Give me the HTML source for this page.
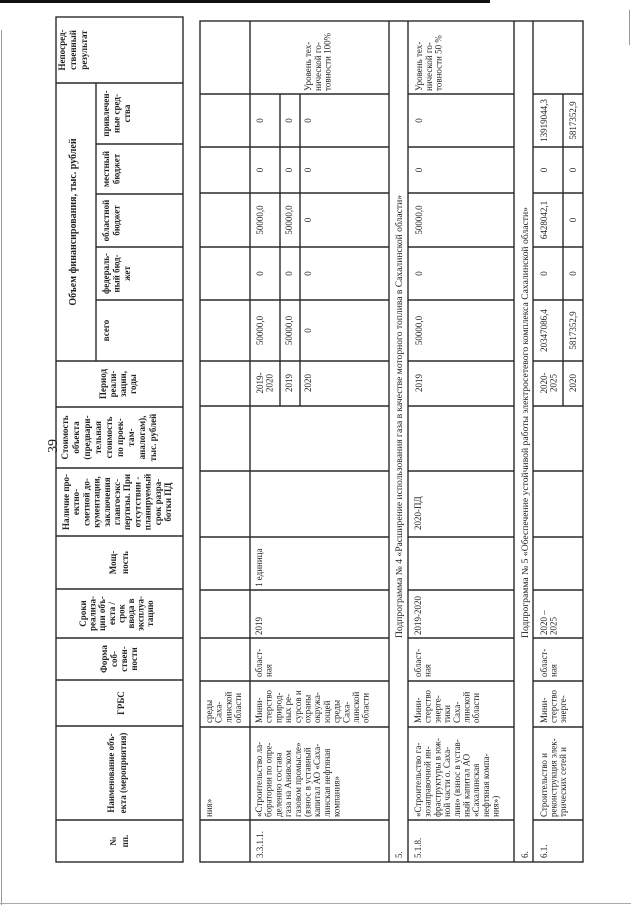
<!DOCTYPE html>
<html><head><meta charset="utf-8"><style>
html,body{margin:0;padding:0;background:#fff;}
svg{display:block;}
text{font-family:"Liberation Serif",serif;fill:#222;}
.h{font-weight:bold;font-size:9px;}
.b{font-size:9px;}
</style></head><body>
<svg width="631" height="905" viewBox="0 0 631 905" xmlns="http://www.w3.org/2000/svg">
<rect x="0" y="0" width="631" height="905" fill="#fff"/>
<rect x="0" y="0" width="490" height="3" fill="#111"/>
<line x1="1.5" y1="30" x2="1.5" y2="905" stroke="#999" stroke-width="1"/>
<line x1="0" y1="903.5" x2="631" y2="903.5" stroke="#aaa" stroke-width="1"/>
<line x1="629.5" y1="10" x2="629.5" y2="45" stroke="#999" stroke-width="1"/>

<g stroke="#2a2a2a" stroke-width="1.4" fill="none">
<rect x="56" y="17" width="127" height="845"/>
<path d="M56 83H183M56 361H183M56 407H183M56 468H183M56 536H183M56 589H183M56 638H183M56 680H183M56 726H183M56 820H183"/>
<path d="M96 144H183M96 194H183M96 247H183M96 300H183M96 83V361"/>
<rect x="200" y="21" width="383" height="841"/>
<path d="M250 21V862M389 21V862M408 21V862M514 21V862M533 21V862"/>
<path d="M280 94V406M300 94V406M563 94V406"/>
<path d="M200 94H389M200 147H389M200 193H389M200 247H389M200 300H389M200 361H389M200 406H389M200 471H389M200 537H389M200 590H389M200 638H389M200 681H389M200 727H389M200 820H389"/>
<path d="M408 94H514M408 147H514M408 193H514M408 247H514M408 300H514M408 361H514M408 406H514M408 471H514M408 537H514M408 590H514M408 638H514M408 681H514M408 727H514M408 820H514"/>
<path d="M533 94H583M533 147H583M533 193H583M533 247H583M533 300H583M533 361H583M533 406H583M533 471H583M533 537H583M533 590H583M533 638H583M533 681H583M533 727H583M533 820H583"/>
</g>

<text transform="translate(57,446) rotate(-90)" text-anchor="middle" style="font-size:14px">39</text>

<g class="h" text-anchor="middle">
<text transform="translate(65,50) rotate(-90)"><tspan x="0">Непосред-</tspan><tspan x="0" dy="11">ственный</tspan><tspan x="0" dy="11">результат</tspan></text>
<text transform="translate(76,222) rotate(-90)" style="font-size:10px">Объем финансирования, тыс. рублей</text>
<text transform="translate(109,113.5) rotate(-90)"><tspan x="0">привлечен-</tspan><tspan x="0" dy="10.5">ные сред-</tspan><tspan x="0" dy="10.5">ства</tspan></text>
<text transform="translate(109,169) rotate(-90)"><tspan x="0">местный</tspan><tspan x="0" dy="10.5">бюджет</tspan></text>
<text transform="translate(109,220.5) rotate(-90)"><tspan x="0">областной</tspan><tspan x="0" dy="10.5">бюджет</tspan></text>
<text transform="translate(109,273.5) rotate(-90)"><tspan x="0">федераль-</tspan><tspan x="0" dy="10.5">ный бюд-</tspan><tspan x="0" dy="10.5">жет</tspan></text>
<text transform="translate(109,330.5) rotate(-90)">всего</text>
<text transform="translate(106,384) rotate(-90)"><tspan x="0">Период</tspan><tspan x="0" dy="10">реали-</tspan><tspan x="0" dy="10">зации,</tspan><tspan x="0" dy="10">годы</tspan></text>
<text transform="translate(68,437.5) rotate(-90)"><tspan x="0">Стоимость</tspan><tspan x="0" dy="11">объекта</tspan><tspan x="0" dy="11">(предвари-</tspan><tspan x="0" dy="11">тельная</tspan><tspan x="0" dy="11">стоимость</tspan><tspan x="0" dy="11">по проек-</tspan><tspan x="0" dy="11">там-</tspan><tspan x="0" dy="11">аналогам),</tspan><tspan x="0" dy="11">тыс. рублей</tspan></text>
<text transform="translate(69,502) rotate(-90)"><tspan x="0">Наличие про-</tspan><tspan x="0" dy="10.2">ектно-</tspan><tspan x="0" dy="10.2">сметной до-</tspan><tspan x="0" dy="10.2">кументации,</tspan><tspan x="0" dy="10.2">заключения</tspan><tspan x="0" dy="10.2">главгосэкс-</tspan><tspan x="0" dy="10.2">пертизы. При</tspan><tspan x="0" dy="10.2">отсутствии -</tspan><tspan x="0" dy="10.2">планируемый</tspan><tspan x="0" dy="10.2">срок разра-</tspan><tspan x="0" dy="10.2">ботки ПД</tspan></text>
<text transform="translate(116,562.5) rotate(-90)"><tspan x="0">Мощ-</tspan><tspan x="0" dy="12">ность</tspan></text>
<text transform="translate(86,613.5) rotate(-90)"><tspan x="0">Сроки</tspan><tspan x="0" dy="9.6">реализа-</tspan><tspan x="0" dy="9.6">ции объ-</tspan><tspan x="0" dy="9.6">екта /</tspan><tspan x="0" dy="9.6">срок</tspan><tspan x="0" dy="9.6">ввода в</tspan><tspan x="0" dy="9.6">эксплуа-</tspan><tspan x="0" dy="9.6">тацию</tspan></text>
<text transform="translate(107,659) rotate(-90)"><tspan x="0">Форма</tspan><tspan x="0" dy="10">соб-</tspan><tspan x="0" dy="10">ствен-</tspan><tspan x="0" dy="10">ности</tspan></text>
<text transform="translate(124,703) rotate(-90)">ГРБС</text>
<text transform="translate(114,773) rotate(-90)"><tspan x="0">Наименование объ-</tspan><tspan x="0" dy="12">екта (мероприятия)</tspan></text>
<text transform="translate(116,841) rotate(-90)"><tspan x="0">№</tspan><tspan x="0" dy="12">пп.</tspan></text>
</g>

<g class="b">
<text transform="translate(212,817) rotate(-90)">ния»</text>
<text transform="translate(212,723) rotate(-90)"><tspan x="0">среды</tspan><tspan x="0" dy="9.7">Саха-</tspan><tspan x="0" dy="9.7">линской</tspan><tspan x="0" dy="9.7">области</tspan></text>
<text transform="translate(263,858) rotate(-90)">3.3.1.1.</text>
<text transform="translate(262,817) rotate(-90)"><tspan x="0">«Строительство ла-</tspan><tspan x="0" dy="9.7">боратории по опре-</tspan><tspan x="0" dy="9.7">делению состава</tspan><tspan x="0" dy="9.7">газа на Анивском</tspan><tspan x="0" dy="9.7">газовом промысле»</tspan><tspan x="0" dy="9.7">(взнос в уставный</tspan><tspan x="0" dy="9.7">капитал АО «Саха-</tspan><tspan x="0" dy="9.7">линская нефтяная</tspan><tspan x="0" dy="9.7">компания»</tspan></text>
<text transform="translate(262,723) rotate(-90)"><tspan x="0">Мини-</tspan><tspan x="0" dy="9.7">стерство</tspan><tspan x="0" dy="9.7">природ-</tspan><tspan x="0" dy="9.7">ных ре-</tspan><tspan x="0" dy="9.7">сурсов и</tspan><tspan x="0" dy="9.7">охраны</tspan><tspan x="0" dy="9.7">окружа-</tspan><tspan x="0" dy="9.7">ющей</tspan><tspan x="0" dy="9.7">среды</tspan><tspan x="0" dy="9.7">Саха-</tspan><tspan x="0" dy="9.7">линской</tspan><tspan x="0" dy="9.7">области</tspan></text>
<text transform="translate(262,677) rotate(-90)"><tspan x="0">област-</tspan><tspan x="0" dy="9.7">ная</tspan></text>
<text transform="translate(262,635) rotate(-90)">2019</text>
<text transform="translate(262,587) rotate(-90)">1 единица</text>
<text transform="translate(311,91) rotate(-90)"><tspan x="0">Уровень тех-</tspan><tspan x="0" dy="9.8">нической го-</tspan><tspan x="0" dy="9.8">товности 100%</tspan></text>
<text transform="translate(402,858) rotate(-90)">5.</text>
<text transform="translate(402,638) rotate(-90)" textLength="443" lengthAdjust="spacingAndGlyphs">Подпрограмма № 4 «Расширение использования газа в качестве моторного топлива в Сахалинской области»</text>
<text transform="translate(421,858) rotate(-90)">5.1.8.</text>
<text transform="translate(421,817) rotate(-90)"><tspan x="0">«Строительство га-</tspan><tspan x="0" dy="9.7">зозаправочной ин-</tspan><tspan x="0" dy="9.7">фраструктуры в юж-</tspan><tspan x="0" dy="9.7">ной части о. Саха-</tspan><tspan x="0" dy="9.7">лин» (взнос в устав-</tspan><tspan x="0" dy="9.7">ный капитал АО</tspan><tspan x="0" dy="9.7">«Сахалинская</tspan><tspan x="0" dy="9.7">нефтяная компа-</tspan><tspan x="0" dy="9.7">ния»)</tspan></text>
<text transform="translate(421,723) rotate(-90)"><tspan x="0">Мини-</tspan><tspan x="0" dy="9.7">стерство</tspan><tspan x="0" dy="9.7">энерге-</tspan><tspan x="0" dy="9.7">тики</tspan><tspan x="0" dy="9.7">Саха-</tspan><tspan x="0" dy="9.7">линской</tspan><tspan x="0" dy="9.7">области</tspan></text>
<text transform="translate(421,677) rotate(-90)"><tspan x="0">област-</tspan><tspan x="0" dy="9.7">ная</tspan></text>
<text transform="translate(421,635) rotate(-90)">2019-2020</text>
<text transform="translate(421,530) rotate(-90)">2020-ПД</text>
<text transform="translate(422,91) rotate(-90)"><tspan x="0">Уровень тех-</tspan><tspan x="0" dy="9.8">нической го-</tspan><tspan x="0" dy="9.8">товности 50 %</tspan></text>
<text transform="translate(528,858) rotate(-90)">6.</text>
<text transform="translate(528,638) rotate(-90)" textLength="431" lengthAdjust="spacingAndGlyphs">Подпрограмма № 5 «Обеспечение устойчивой работы электросетевого комплекса Сахалинской области»</text>
<text transform="translate(547,858) rotate(-90)">6.1.</text>
<text transform="translate(547,817) rotate(-90)"><tspan x="0">Строительство и</tspan><tspan x="0" dy="9.5">реконструкция элек-</tspan><tspan x="0" dy="9.5">трических сетей и</tspan></text>
<text transform="translate(547,723) rotate(-90)"><tspan x="0">Мини-</tspan><tspan x="0" dy="9.5">стерство</tspan><tspan x="0" dy="9.5">энерге-</tspan></text>
<text transform="translate(547,677) rotate(-90)"><tspan x="0">област-</tspan><tspan x="0" dy="9.5">ная</tspan></text>
<text transform="translate(547,635) rotate(-90)"><tspan x="0">2020 –</tspan><tspan x="0" dy="9.5">2025</tspan></text>
</g>

<g class="b" text-anchor="middle">
<text transform="translate(263,383) rotate(-90)"><tspan x="0">2019-</tspan><tspan x="0" dy="9.5">2020</tspan></text>
<text transform="translate(292,383) rotate(-90)">2019</text>
<text transform="translate(311,383) rotate(-90)">2020</text>
<text transform="translate(422,383) rotate(-90)">2019</text>
<text transform="translate(547,383) rotate(-90)"><tspan x="0">2020-</tspan><tspan x="0" dy="9.5">2025</tspan></text>
<text transform="translate(576,383) rotate(-90)">2020</text>
<text transform="translate(263,330.5) rotate(-90)">50000,0</text>
<text transform="translate(292,330.5) rotate(-90)">50000,0</text>
<text transform="translate(311,330.5) rotate(-90)">0</text>
<text transform="translate(422,330.5) rotate(-90)">50000,0</text>
<text transform="translate(547,330.5) rotate(-90)">20347086,4</text>
<text transform="translate(576,330.5) rotate(-90)">5817352,9</text>
<text transform="translate(263,273.5) rotate(-90)">0</text>
<text transform="translate(292,273.5) rotate(-90)">0</text>
<text transform="translate(311,273.5) rotate(-90)">0</text>
<text transform="translate(422,273.5) rotate(-90)">0</text>
<text transform="translate(547,273.5) rotate(-90)">0</text>
<text transform="translate(576,273.5) rotate(-90)">0</text>
<text transform="translate(263,220) rotate(-90)">50000,0</text>
<text transform="translate(292,220) rotate(-90)">50000,0</text>
<text transform="translate(311,220) rotate(-90)">0</text>
<text transform="translate(422,220) rotate(-90)">50000,0</text>
<text transform="translate(547,220) rotate(-90)">6428042,1</text>
<text transform="translate(576,220) rotate(-90)">0</text>
<text transform="translate(263,170) rotate(-90)">0</text>
<text transform="translate(292,170) rotate(-90)">0</text>
<text transform="translate(311,170) rotate(-90)">0</text>
<text transform="translate(422,170) rotate(-90)">0</text>
<text transform="translate(547,170) rotate(-90)">0</text>
<text transform="translate(576,170) rotate(-90)">0</text>
<text transform="translate(263,120.5) rotate(-90)">0</text>
<text transform="translate(292,120.5) rotate(-90)">0</text>
<text transform="translate(311,120.5) rotate(-90)">0</text>
<text transform="translate(422,120.5) rotate(-90)">0</text>
<text transform="translate(547,120.5) rotate(-90)">13919044,3</text>
<text transform="translate(576,120.5) rotate(-90)">5817352,9</text>
</g>
</svg>
</body></html>
